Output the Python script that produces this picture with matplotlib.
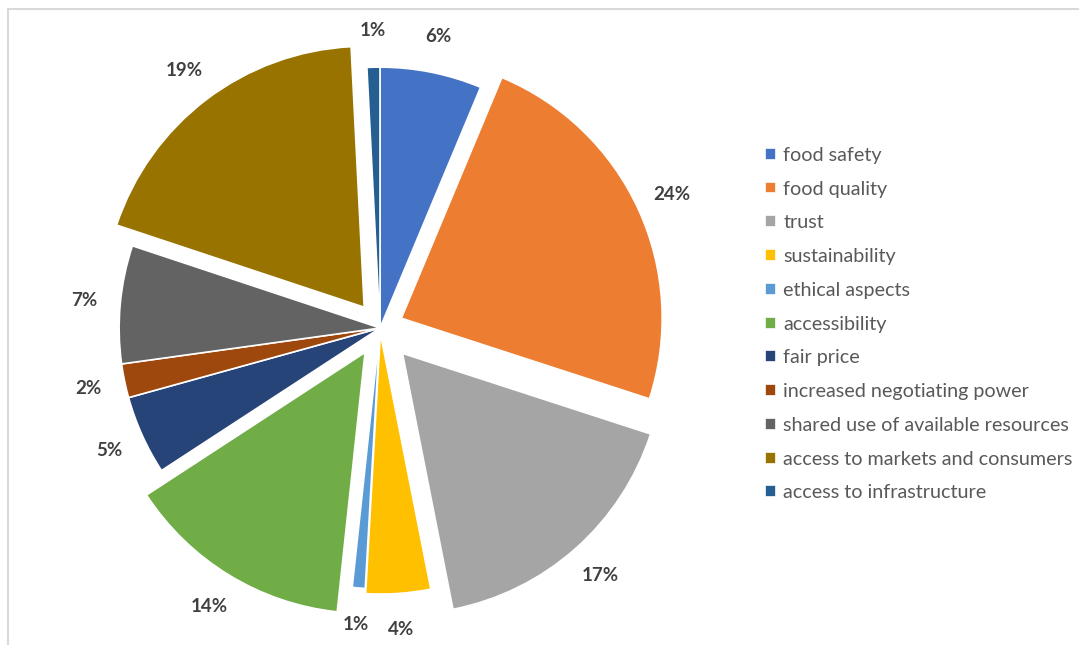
import numpy as np
import matplotlib
matplotlib.use('Agg')
import matplotlib.pyplot as plt
from matplotlib.patches import Rectangle

# ---- data ---------------------------------------------------------------------
categories = ['food safety', 'food quality', 'trust', 'sustainability',
              'ethical aspects', 'accessibility', 'fair price',
              'increased negotiating power', 'shared use of available resources',
              'access to markets and consumers', 'access to infrastructure']
shares = [6.3, 23.7, 16.9, 4.0, 0.8, 14.1, 4.9, 2.1, 7.3, 19.1, 0.8]
explode = [0.0, 0.09, 0.13, 0.02, 0.0, 0.11, 0.0, 0.0, 0.0, 0.10, 0.0]
colors = ['#4472C4', '#ED7D31', '#A5A5A5', '#FFC000', '#5B9BD5', '#70AD47',
          '#264478', '#9E480E', '#636363', '#997300', '#255E91']

plt.rcParams['font.family'] = ['Lato', 'DejaVu Sans']

fig = plt.figure(figsize=(10.79, 6.45), dpi=100)

# chart border (only top and left visible in the crop)
fig.patches.append(Rectangle((8/1079, -0.1), 1.2, 1 - 9/645 + 0.1,
                             transform=fig.transFigure, fill=False,
                             edgecolor='#D9D9D9', linewidth=1.5))

# pie axes: centre at (380, 328) px from top, radius ~261 px
ax = fig.add_axes([80/1079, 17/645, 600/1079, 600/645])
wedges, texts, autotexts = ax.pie(shares, explode=explode, colors=colors,
                                  startangle=90, counterclock=False,
                                  autopct='%.0f%%', pctdistance=1.14,
                                  wedgeprops=dict(edgecolor='white', linewidth=1.2),
                                  textprops=dict(fontsize=13.5, fontweight='bold',
                                                 color='#404040'))
ax.set_xlim(-1.15, 1.15)
ax.set_ylim(-1.15, 1.15)
ax.set_aspect('equal')
ax.axis('off')

leg = fig.legend(wedges, categories, loc='upper left',
                 bbox_to_anchor=(747/1079, 1 - 129/645), frameon=False,
                 fontsize=14.2, labelcolor='#595959', handlelength=0.55,
                 handleheight=0.55, handletextpad=0.4, labelspacing=0.85)

fig.savefig('out.png', dpi=100)
